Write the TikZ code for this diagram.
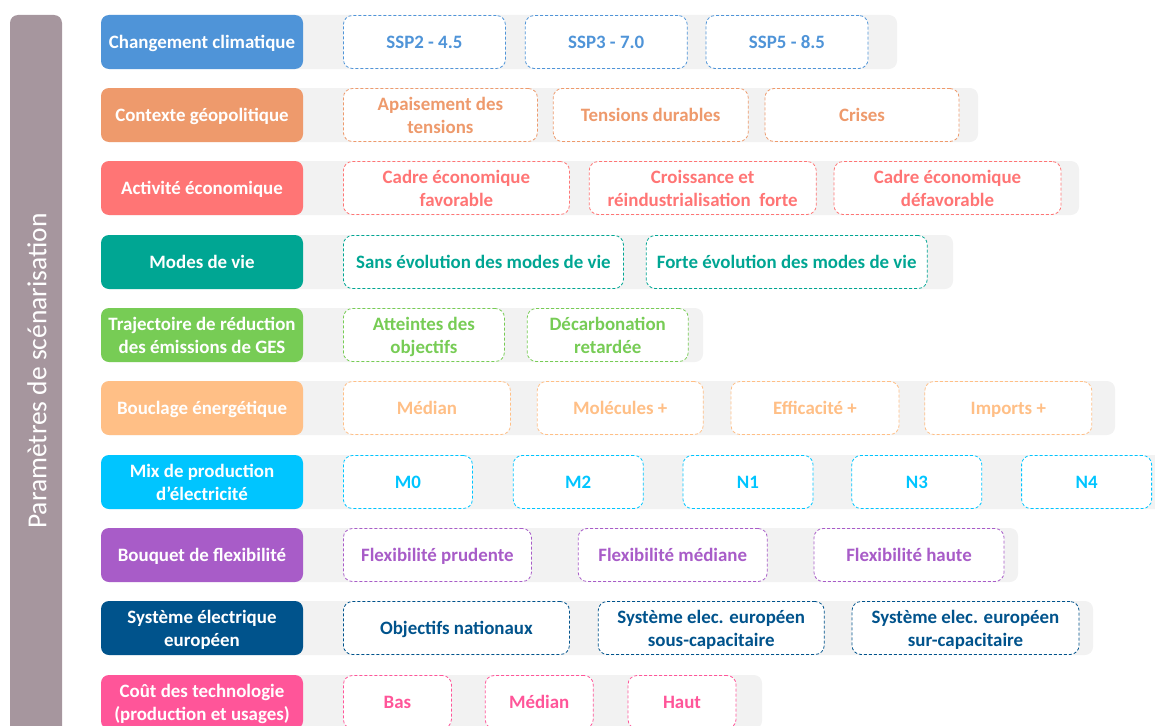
\documentclass[tikz,border=0pt]{standalone}
\usepackage{fontspec}
\setmainfont{Carlito}
\usetikzlibrary{positioning}

\definecolor{cbar}{RGB}{166,150,158}
\definecolor{cstrip}{RGB}{242,242,242}
\definecolor{cclim}{RGB}{79,148,216}
\definecolor{cgeo}{RGB}{238,154,108}
\definecolor{ceco}{RGB}{255,117,117}
\definecolor{cvie}{RGB}{0,166,147}
\definecolor{cges}{RGB}{119,204,85}
\definecolor{cbouc}{RGB}{255,191,134}
\definecolor{cmix}{RGB}{0,197,255}
\definecolor{cflex}{RGB}{168,92,200}
\definecolor{ceur}{RGB}{0,83,140}
\definecolor{ccout}{RGB}{255,85,153}

\tikzset{
  head/.style={fill=#1,text=white,rounded corners=8pt,minimum width=202pt,minimum height=54pt,
    inner sep=0pt,align=center,text depth=0pt,font=\bfseries\fontsize{18.9}{23}\selectfont},
  opt/.style 2 args={draw=#1,text=#1,fill=white,dash pattern=on 3pt off 2pt,line width=0.8pt,
    rounded corners=9pt,minimum width=#2pt,minimum height=53pt,inner sep=0pt,align=center,
    text depth=0pt,font=\bfseries\fontsize{18.9}{23}\selectfont},
  strip/.style={fill=cstrip,rounded corners=8pt}
}

\begin{document}
\begin{tikzpicture}[x=1pt,y=-1pt]
  \useasboundingbox (0,0) rectangle (1155,725);
  \clip (0,0) rectangle (1155,725);
  \fill[cbar,rounded corners=8pt] (10,15) rectangle (62,760);
  \node[rotate=90,text=white,font=\fontsize{27.5}{30}\selectfont] (titre) at (37,371) {Paramètres de scénarisation};

  % gray strips behind each row
  \fill[strip] (101,15) rectangle (897,69);
  \fill[strip] (101,88) rectangle (978,142);
  \fill[strip] (101,161) rectangle (1079,215);
  \fill[strip] (101,235) rectangle (953,289);
  \fill[strip] (101,308) rectangle (703,362);
  \fill[strip] (101,381) rectangle (1115,435);
  \fill[strip] (101,455) rectangle (1175,509);
  \fill[strip] (101,528) rectangle (1018,582);
  \fill[strip] (101,601) rectangle (1093,655);
  \fill[strip] (101,675) rectangle (762,729);

  \node[head=cclim] (climat) at (202,42) {Changement climatique};
  \node[opt={cclim}{162},anchor=west] (ssp2) at (343,42) {SSP2 - 4.5};
  \node[opt={cclim}{162},right=19pt of ssp2] (ssp3) {SSP3 - 7.0};
  \node[opt={cclim}{162},right=18pt of ssp3] (ssp5) {SSP5 - 8.5};

  \node[head=cgeo] (geo) at (202,115) {Contexte géopolitique};
  \node[opt={cgeo}{194},anchor=west] (apais) at (343,115) {Apaisement des\\tensions};
  \node[opt={cgeo}{195},right=15pt of apais] (tens) {Tensions durables};
  \node[opt={cgeo}{194},right=16pt of tens] (crises) {Crises};

  \node[head=ceco] (eco) at (202,188) {Activité économique};
  \node[opt={ceco}{226},anchor=west] (fav) at (343,188) {Cadre économique\\favorable};
  \node[opt={ceco}{227},right=19pt of fav] (crois) {Croissance et\\réindustrialisation\ \ forte};
  \node[opt={ceco}{227},right=17pt of crois] (defav) {Cadre économique\\défavorable};

  \node[head=cvie] (vie) at (202,262) {Modes de vie};
  \node[opt={cvie}{280},anchor=west] (sans) at (343,262) {Sans évolution des modes de vie};
  \node[opt={cvie}{281},right=22pt of sans] (forte) {Forte évolution des modes de vie};

  \node[head=cges] (ges) at (202,335) {Trajectoire de réduction\\des émissions de GES};
  \node[opt={cges}{161},anchor=west] (atteint) at (343,335) {Atteintes des\\objectifs};
  \node[opt={cges}{161},right=22pt of atteint] (decarb) {Décarbonation\\retardée};

  \node[head=cbouc] (bouc) at (202,408) {Bouclage énergétique};
  \node[opt={cbouc}{167},anchor=west] (median) at (343,408) {Médian};
  \node[opt={cbouc}{166},right=26pt of median] (molec) {Molécules +};
  \node[opt={cbouc}{168},right=27pt of molec] (effic) {Efficacité +};
  \node[opt={cbouc}{167},right=25pt of effic] (imports) {Imports +};

  \node[head=cmix] (mix) at (202,482) {Mix de production\\d’électricité};
  \node[opt={cmix}{129},anchor=west] (m0) at (343,482) {M0};
  \node[opt={cmix}{130},right=40pt of m0] (m2) {M2};
  \node[opt={cmix}{130},right=39pt of m2] (n1) {N1};
  \node[opt={cmix}{130},right=38pt of n1] (n3) {N3};
  \node[opt={cmix}{130},right=39pt of n3] (n4) {N4};

  \node[head=cflex] (flex) at (202,555) {Bouquet de flexibilité};
  \node[opt={cflex}{188},anchor=west] (prud) at (343,555) {Flexibilité prudente};
  \node[opt={cflex}{189},right=46pt of prud] (flexmed) {Flexibilité médiane};
  \node[opt={cflex}{190},right=46pt of flexmed] (haute) {Flexibilité haute};

  \node[head=ceur] (eur) at (202,628) {Système électrique\\européen};
  \node[opt={ceur}{226},anchor=west] (natio) at (343,628) {Objectifs nationaux};
  \node[opt={ceur}{226},right=28pt of natio] (sous) {Système elec. européen\\sous-capacitaire};
  \node[opt={ceur}{227},right=27pt of sous] (sur) {Système elec. européen\\sur-capacitaire};

  \node[head=ccout] (cout) at (202,702) {Coût des technologie\\(production et usages)};
  \node[opt={ccout}{108},anchor=west] (bas) at (343,702) {Bas};
  \node[opt={ccout}{108},right=33pt of bas] (coutmed) {Médian};
  \node[opt={ccout}{108},right=34pt of coutmed] (haut) {Haut};
\end{tikzpicture}
\end{document}
